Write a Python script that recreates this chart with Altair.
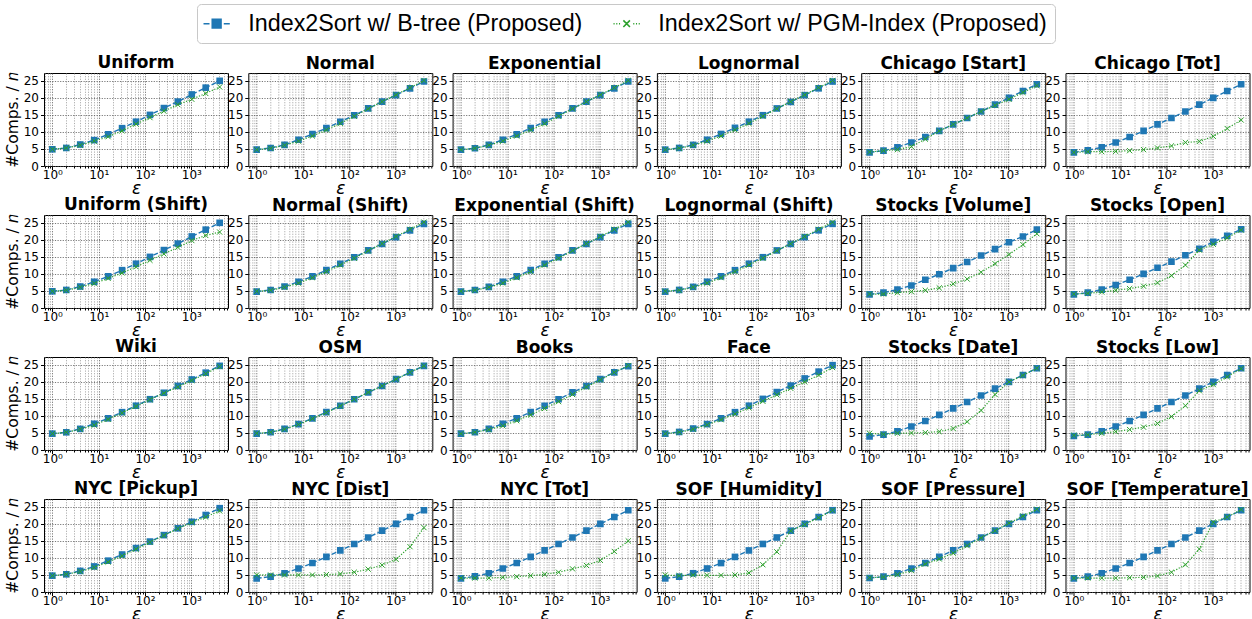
import altair as alt
import pandas as pd

# error bound epsilon (x) shared by every panel
EPS = [1, 2, 4, 8, 16, 32, 64, 128, 256, 512, 1024, 2048, 4096]

BTREE_NAME = "Index2Sort w/ B-tree (Proposed)"
PGM_NAME = "Index2Sort w/ PGM-Index (Proposed)"

PANELS = [
    "Uniform", "Normal", "Exponential", "Lognormal", "Chicago [Start]", "Chicago [Tot]",
    "Uniform (Shift)", "Normal (Shift)", "Exponential (Shift)", "Lognormal (Shift)", "Stocks [Volume]", "Stocks [Open]",
    "Wiki", "OSM", "Books", "Face", "Stocks [Date]", "Stocks [Low]",
    "NYC [Pickup]", "NYC [Dist]", "NYC [Tot]", "SOF [Humidity]", "SOF [Pressure]", "SOF [Temperature]",
]

# comparisons per element, B-tree variant
BTREE = {
    "Uniform": [4.9, 5.3, 6.3, 7.6, 9.3, 11.1, 13.0, 15.0, 17.0, 18.9, 21.0, 23.0, 25.0],
    "Normal": [4.8, 5.3, 6.2, 7.7, 9.4, 11.1, 13.0, 14.9, 16.9, 18.9, 20.8, 22.8, 24.8],
    "Exponential": [4.8, 5.2, 6.2, 7.7, 9.3, 11.1, 13.0, 14.9, 16.9, 18.9, 20.8, 22.8, 24.8],
    "Lognormal": [4.8, 5.3, 6.2, 7.7, 9.4, 11.2, 13.0, 14.9, 16.9, 18.8, 20.8, 22.8, 24.8],
    "Chicago [Start]": [4.0, 4.5, 5.5, 6.9, 8.5, 10.3, 12.2, 14.1, 16.0, 18.0, 20.0, 22.0, 24.0],
    "Chicago [Tot]": [4.0, 4.6, 5.5, 6.9, 8.5, 10.3, 12.2, 14.1, 16.0, 18.0, 20.0, 22.0, 24.0],
    "Uniform (Shift)": [4.9, 5.3, 6.3, 7.7, 9.3, 11.1, 13.0, 15.0, 17.0, 18.9, 21.0, 23.0, 25.0],
    "Normal (Shift)": [4.8, 5.3, 6.3, 7.7, 9.3, 11.1, 13.0, 14.9, 16.9, 18.8, 20.8, 22.8, 24.7],
    "Exponential (Shift)": [4.8, 5.3, 6.2, 7.7, 9.3, 11.1, 13.0, 14.9, 16.9, 18.8, 20.8, 22.8, 24.7],
    "Lognormal (Shift)": [4.8, 5.3, 6.2, 7.7, 9.3, 11.1, 13.0, 14.9, 16.9, 18.8, 20.8, 22.8, 24.7],
    "Stocks [Volume]": [4.0, 4.5, 5.4, 6.6, 8.3, 9.9, 11.7, 13.5, 15.4, 17.3, 19.3, 21.0, 23.0],
    "Stocks [Open]": [4.0, 4.5, 5.4, 6.7, 8.3, 10.0, 11.8, 13.6, 15.5, 17.4, 19.4, 21.2, 23.1],
    "Wiki": [4.8, 5.2, 6.2, 7.7, 9.3, 11.1, 13.0, 14.9, 16.8, 18.8, 20.7, 22.7, 24.7],
    "OSM": [4.8, 5.2, 6.2, 7.6, 9.3, 11.1, 13.0, 14.9, 16.9, 18.8, 20.8, 22.8, 24.7],
    "Books": [4.8, 5.2, 6.2, 7.7, 9.3, 11.1, 13.0, 14.9, 16.9, 18.8, 20.8, 22.8, 24.6],
    "Face": [4.8, 5.3, 6.3, 7.6, 9.3, 11.1, 13.0, 15.0, 17.0, 18.9, 21.0, 23.0, 24.9],
    "Stocks [Date]": [4.0, 4.5, 5.5, 6.9, 8.5, 10.3, 12.2, 14.1, 16.0, 18.0, 20.0, 22.0, 24.0],
    "Stocks [Low]": [4.1, 4.5, 5.5, 6.9, 8.5, 10.3, 12.2, 14.1, 16.0, 18.0, 20.0, 22.0, 24.0],
    "NYC [Pickup]": [4.8, 5.2, 6.2, 7.5, 9.2, 11.0, 12.9, 14.8, 16.7, 18.7, 20.6, 22.6, 24.6],
    "NYC [Dist]": [4.0, 4.5, 5.5, 6.9, 8.5, 10.3, 12.2, 14.1, 16.0, 18.0, 20.0, 22.0, 24.0],
    "NYC [Tot]": [4.0, 4.6, 5.5, 6.9, 8.5, 10.3, 12.2, 14.1, 16.0, 18.0, 20.0, 22.0, 24.0],
    "SOF [Humidity]": [4.0, 4.5, 5.5, 6.9, 8.5, 10.3, 12.2, 14.1, 16.0, 18.0, 20.0, 22.0, 24.0],
    "SOF [Pressure]": [4.1, 4.5, 5.5, 6.9, 8.5, 10.3, 12.2, 14.1, 16.0, 18.0, 20.0, 22.0, 24.0],
    "SOF [Temperature]": [4.0, 4.5, 5.5, 6.9, 8.5, 10.3, 12.2, 14.1, 16.0, 18.0, 20.0, 22.0, 24.0],
}

# comparisons per element, PGM-Index variant
PGM = {
    "Uniform": [4.9, 5.3, 6.1, 7.3, 8.6, 10.3, 12.3, 14.2, 16.1, 18.0, 19.6, 21.3, 23.2],
    "Normal": [4.8, 5.2, 6.1, 7.3, 8.8, 10.6, 12.5, 14.6, 16.8, 18.9, 20.9, 23.0, 25.1],
    "Exponential": [4.8, 5.2, 6.1, 7.3, 8.8, 10.6, 12.4, 14.6, 16.8, 18.9, 20.9, 23.0, 25.1],
    "Lognormal": [4.8, 5.2, 6.1, 7.3, 8.8, 10.6, 12.5, 14.6, 16.8, 18.9, 20.9, 23.0, 25.1],
    "Chicago [Start]": [4.1, 4.5, 4.8, 5.7, 7.9, 10.3, 12.2, 14.1, 16.0, 17.8, 19.6, 21.6, 23.6],
    "Chicago [Tot]": [4.0, 4.2, 4.2, 4.3, 4.5, 4.8, 5.3, 5.9, 6.9, 7.2, 8.7, 11.0, 13.5],
    "Uniform (Shift)": [4.9, 5.2, 6.1, 7.2, 8.7, 10.3, 12.1, 14.0, 15.9, 17.8, 19.8, 21.3, 22.3],
    "Normal (Shift)": [4.9, 5.2, 6.1, 7.3, 8.9, 10.7, 12.6, 14.6, 16.8, 18.9, 21.0, 23.1, 25.2],
    "Exponential (Shift)": [4.9, 5.2, 6.1, 7.3, 8.9, 10.7, 12.6, 14.6, 16.8, 18.9, 21.0, 23.1, 25.2],
    "Lognormal (Shift)": [4.9, 5.2, 6.1, 7.3, 8.9, 10.7, 12.6, 14.6, 16.8, 18.9, 21.0, 23.1, 25.2],
    "Stocks [Volume]": [4.1, 4.1, 4.5, 4.8, 5.2, 5.9, 7.1, 8.5, 10.5, 13.0, 15.7, 18.6, 21.8],
    "Stocks [Open]": [4.1, 4.3, 4.7, 5.2, 5.7, 6.4, 7.4, 9.5, 12.6, 17.0, 18.7, 20.6, 22.9],
    "Wiki": [4.8, 5.2, 6.1, 7.3, 9.0, 10.9, 12.8, 14.8, 16.7, 18.5, 20.4, 22.4, 24.5],
    "OSM": [4.9, 5.2, 6.1, 7.5, 9.2, 11.0, 12.9, 14.9, 16.9, 18.8, 20.8, 22.8, 24.7],
    "Books": [4.8, 5.2, 6.0, 7.1, 8.6, 10.3, 12.2, 14.2, 16.3, 18.5, 20.6, 22.8, 24.8],
    "Face": [4.8, 5.2, 6.1, 7.4, 8.9, 10.6, 12.4, 14.3, 16.2, 18.1, 20.0, 22.0, 24.2],
    "Stocks [Date]": [4.9, 4.6, 4.9, 5.0, 5.1, 5.4, 6.3, 8.3, 11.6, 16.3, 20.0, 21.9, 24.0],
    "Stocks [Low]": [4.3, 4.5, 4.9, 5.4, 6.0, 6.7, 7.8, 9.8, 13.0, 17.4, 19.2, 21.5, 23.9],
    "NYC [Pickup]": [4.8, 5.2, 6.0, 7.2, 8.8, 10.6, 12.6, 14.6, 16.6, 18.6, 20.4, 22.0, 23.8],
    "NYC [Dist]": [5.0, 5.0, 5.0, 5.0, 5.0, 5.1, 5.3, 5.8, 6.7, 7.9, 9.6, 13.3, 18.9],
    "NYC [Tot]": [4.1, 4.1, 4.1, 4.3, 4.5, 4.8, 5.2, 5.8, 6.8, 7.8, 9.3, 11.9, 15.0],
    "SOF [Humidity]": [5.0, 4.8, 5.0, 4.9, 4.9, 5.0, 5.6, 8.0, 11.8, 18.0, 19.8, 21.8, 24.0],
    "SOF [Pressure]": [4.2, 4.4, 5.1, 6.3, 8.2, 9.7, 11.4, 13.6, 15.9, 18.0, 20.2, 22.3, 24.3],
    "SOF [Temperature]": [4.1, 4.1, 4.1, 4.1, 4.2, 4.3, 4.7, 5.8, 8.0, 12.6, 20.5, 22.0, 24.2],
}

rows = []
for name in PANELS:
    for method, table in ((BTREE_NAME, BTREE), (PGM_NAME, PGM)):
        for e, v in zip(EPS, table[name]):
            rows.append({"panel": name, "method": method, "eps": e, "value": v})
df = pd.DataFrame(rows)

BLUE = "#1f77b4"
GREEN = "#2ca02c"
METHODS = [BTREE_NAME, PGM_NAME]
X_PATH = "M-1,-1L1,1M-1,1L1,-1"

# legend keys: a short dashed / dotted stroke with the marker in the middle
KEY_BTREE = ("M-2.4,0H-1.3M1.3,0H2.4"
             "M-0.8,-0.8H0.8V0.8H-0.8Z")
KEY_PGM = ("M-2.4,0H-2.2M-1.9,0H-1.7M-1.4,0H-1.2"
           "M1.2,0H1.4M1.7,0H1.9M2.2,0H2.4"
           "M-0.6,-0.6L0.6,0.6M-0.6,0.6L0.6,-0.6")

# log-axis ticks: decades are labelled, the rest only carry minor grid lines
X_TICKS = [0.7, 0.8, 0.9, 1, 2, 3, 4, 5, 6, 7, 8, 9, 10, 20, 30, 40, 50, 60, 70, 80, 90,
           100, 200, 300, 400, 500, 600, 700, 800, 900, 1000, 2000, 3000, 4000, 5000, 6000]
MAJOR = "datum.value == 1 || datum.value == 10 || datum.value == 100 || datum.value == 1000"
X_LABELS = ("datum.value == 1 ? '10\u2070' : datum.value == 10 ? '10\u00b9' : "
            "datum.value == 100 ? '10\u00b2' : datum.value == 1000 ? '10\u00b3' : ''")

x_axis = alt.Axis(
    values=X_TICKS,
    labelExpr=X_LABELS,
    labelOverlap=False,
    labelFlush=False,
    labelPadding=0,
    title="\u03b5",
    titleFont="DejaVu Sans",
    titleFontSize=17,
    titleFontStyle="italic",
    titleFontWeight="normal",
    titlePadding=0,
    tickSize={"condition": {"test": MAJOR, "value": 3.5}, "value": 2},
    gridColor={"condition": {"test": MAJOR, "value": "#555555"}, "value": "#999999"},
    gridDash=[1.2, 1.4],
    gridWidth=0.8,
)


def y_axis(first):
    opts = dict(values=[0, 5, 10, 15, 20, 25], gridColor="#555555", gridDash=[1.2, 1.4],
                gridWidth=0.8, tickSize=3.5, labelPadding=2)
    if first:
        opts.update(title="#Comps. / \U0001d45b", titleFont="DejaVu Sans", titleFontSize=15.5,
                    titleFontWeight="normal", titlePadding=3)
    else:
        opts.update(title=None)
    return alt.Axis(**opts)


key_legend = alt.Legend(
    orient="none",
    direction="horizontal",
    legendX=153,
    legendY=-69,
    title=None,
    labelFont="Liberation Sans",
    labelFontSize=23.3,
    labelColor="black",
    labelLimit=600,
    labelOffset=20,
    symbolSize=120,
    symbolStrokeWidth=1.6,
    columnPadding=27,
    padding=8,
    strokeColor="#c8c8c8",
    cornerRadius=4,
    fillColor="white",
)


def panel(name):
    base = alt.Chart(df).transform_filter(alt.datum.panel == name)
    first_col = PANELS.index(name) % 6 == 0
    x = alt.X("eps:Q", scale=alt.Scale(type="log", domain=[0.66, 6200], nice=False), axis=x_axis)
    y = alt.Y("value:Q", scale=alt.Scale(domain=[0, 27.3], nice=False, zero=False), axis=y_axis(first_col))
    btree = base.transform_filter(alt.datum.method == BTREE_NAME)
    pgm = base.transform_filter(alt.datum.method == PGM_NAME)

    # legend-only layer: no rows survive the filter, the key comes from the scale domain
    key = base.transform_filter("false").mark_point(filled=False, opacity=1).encode(
        x=x,
        y=y,
        color=alt.Color("method:N", scale=alt.Scale(domain=METHODS, range=[BLUE, GREEN]),
                        legend=key_legend),
        fill=alt.Fill("method:N", scale=alt.Scale(domain=METHODS, range=[BLUE, GREEN])),
        shape=alt.Shape("method:N", scale=alt.Scale(domain=METHODS, range=[KEY_BTREE, KEY_PGM])),
    )
    layers = [
        btree.mark_line(color=BLUE, strokeDash=[5, 2.2], strokeWidth=1.4, clip=True).encode(x=x, y=y),
        btree.mark_point(shape="square", filled=True, color=BLUE, size=44, opacity=1, clip=True).encode(x=x, y=y),
        pgm.mark_line(color=GREEN, strokeDash=[1.2, 1.6], strokeWidth=1.2, clip=True).encode(x=x, y=y),
        pgm.mark_point(shape=X_PATH, filled=False, color=GREEN, strokeWidth=1, size=27, opacity=1,
                       clip=True).encode(x=x, y=y),
        key,
    ]
    title = alt.TitleParams(name, font="DejaVu Sans", fontSize=17, fontWeight="bold",
                            color="black", offset=0, anchor="middle", frame="group")
    return alt.layer(*layers).properties(width=184, height=93, title=title)


charts = [panel(name) for name in PANELS]

chart = alt.concat(
    *charts, columns=6, spacing={"row": 49.0, "column": 20.3}, bounds="flush"
).properties(
    padding={"left": 4, "top": 3, "right": 2, "bottom": 0},
    background="white",
).configure_view(
    stroke="black", strokeWidth=1
).configure_axis(
    labelFont="DejaVu Sans",
    labelFontSize=12,
    labelColor="black",
    tickColor="black",
    domain=False,
    titleColor="black",
)

chart.save("out.html", embed_options={"renderer": "svg", "actions": False})
